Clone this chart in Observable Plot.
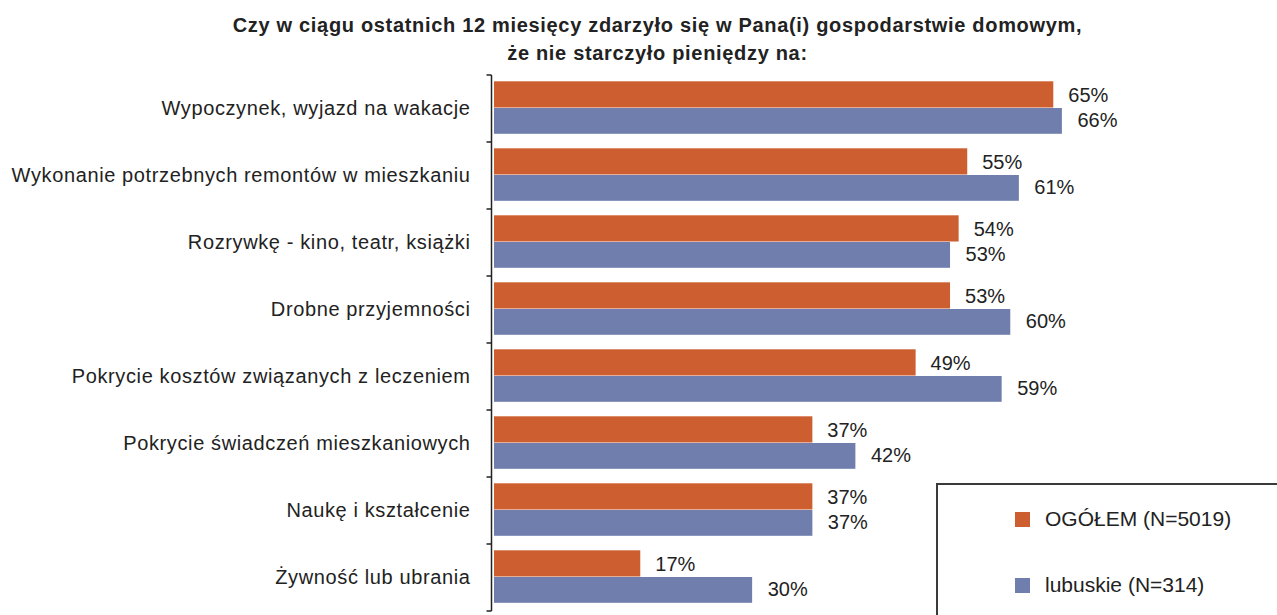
<!DOCTYPE html>
<html>
<head>
<meta charset="utf-8">
<script src="https://cdn.jsdelivr.net/npm/d3@7"></script>
<script src="https://cdn.jsdelivr.net/npm/@observablehq/plot@0.6"></script>
<style>
  html, body { margin: 0; padding: 0; background: #fff; }
  body { width: 1277px; height: 615px; overflow: hidden; position: relative; font-family: "Liberation Sans", Arial, sans-serif; color: #222; }
  #title { position: absolute; left: 0; top: 0; width: 1315px; height: 68px; box-sizing: border-box; padding-top: 11px; text-align: center; font-weight: bold; font-size: 20px; letter-spacing: 0.68px; line-height: 28px; color: #222; }
  #chart { position: absolute; left: 0; top: 68px; }
  #chart svg g[aria-label="y-axis tick label"] text { letter-spacing: 0.62px; }
  #legend { position: absolute; left: 936px; top: 483px; width: 400px; height: 200px; border: 2px solid #3a3a3a; box-sizing: border-box; background: #fff; }
  .lg-item { position: absolute; left: 77px; display: flex; align-items: center; font-size: 21px; color: #222; white-space: nowrap; }
  .lg-sw { width: 15px; height: 15px; margin-right: 15px; }
</style>
</head>
<body>
<div id="title">Czy w ciągu ostatnich 12 miesięcy zdarzyło się w Pana(i) gospodarstwie domowym,<br>że nie starczyło pieniędzy na:</div>
<div id="chart"></div>
<div id="legend"></div>
<script>
const categories = [
  "Wypoczynek, wyjazd na wakacje",
  "Wykonanie potrzebnych remontów w mieszkaniu",
  "Rozrywkę - kino, teatr, książki",
  "Drobne przyjemności",
  "Pokrycie kosztów związanych z leczeniem",
  "Pokrycie świadczeń mieszkaniowych",
  "Naukę i kształcenie",
  "Żywność lub ubrania"
];
const ogolem   = [65, 55, 54, 53, 49, 37, 37, 17];
const lubuskie = [66, 61, 53, 60, 59, 42, 37, 30];
const seriesNames = ["OGÓŁEM (N=5019)", "lubuskie (N=314)"];
const seriesColors = ["#CD5E2F", "#6F7EAC"];

const rowsA = categories.map((c, i) => ({category: c, value: ogolem[i], series: seriesNames[0]}));
const rowsB = categories.map((c, i) => ({category: c, value: lubuskie[i], series: seriesNames[1]}));

// custom axis: vertical line with ticks at band boundaries
function groupAxis(index, scales, values, dimensions) {
  const y = scales.y, x = scales.x;
  const step = y(categories[1]) - y(categories[0]);
  const x0 = x(0) - 2.5;
  const g = d3.create("svg:g").attr("stroke", "#222").attr("stroke-width", 1.5).attr("fill", "none");
  const top = y(categories[0]);
  const bottom = y(categories[categories.length - 1]) + step;
  g.append("line").attr("x1", x0).attr("x2", x0).attr("y1", top).attr("y2", bottom);
  const bounds = categories.map(c => y(c)).concat([bottom]);
  for (const b of bounds) {
    g.append("line").attr("x1", x0 - 5).attr("x2", x0).attr("y1", b).attr("y2", b);
  }
  return g.node();
}

const chart = Plot.plot({
  width: 1277,
  height: 547,
  marginLeft: 494,
  marginRight: 0,
  marginTop: 4.7,
  marginBottom: 2.3,
  style: {fontFamily: "Liberation Sans, Arial, sans-serif", background: "transparent", overflow: "visible"},
  x: {domain: [0, 91], axis: null},
  y: {domain: categories, padding: 0, axis: null},
  marks: [
    Plot.barX(rowsA, {y: "category", x: "value", fill: seriesColors[0], insetTop: 6.3, insetBottom: 34.5}),
    Plot.barX(rowsB, {y: "category", x: "value", fill: seriesColors[1], insetTop: 33, insetBottom: 8.2}),
    Plot.text(rowsA, {y: "category", x: "value", text: d => d.value + "%", textAnchor: "start", dx: 14.5, dy: -13.5, fontSize: 20, fill: "#222"}),
    Plot.text(rowsB, {y: "category", x: "value", text: d => d.value + "%", textAnchor: "start", dx: 15, dy: 11.5, fontSize: 20, fill: "#222"}),
    Plot.axisY({tickSize: 0, tickPadding: 24, fontSize: 20, label: null, color: "#222"}),
    groupAxis
  ]
});
document.getElementById("chart").appendChild(chart);

const legend = document.getElementById("legend");
const legendTops = [22, 88];
seriesNames.forEach((name, i) => {
  const item = document.createElement("div");
  item.className = "lg-item";
  item.style.top = legendTops[i] + "px";
  const sw = document.createElement("div");
  sw.className = "lg-sw";
  sw.style.background = seriesColors[i];
  const label = document.createElement("span");
  label.textContent = name;
  item.appendChild(sw);
  item.appendChild(label);
  legend.appendChild(item);
});
</script>
</body>
</html>
